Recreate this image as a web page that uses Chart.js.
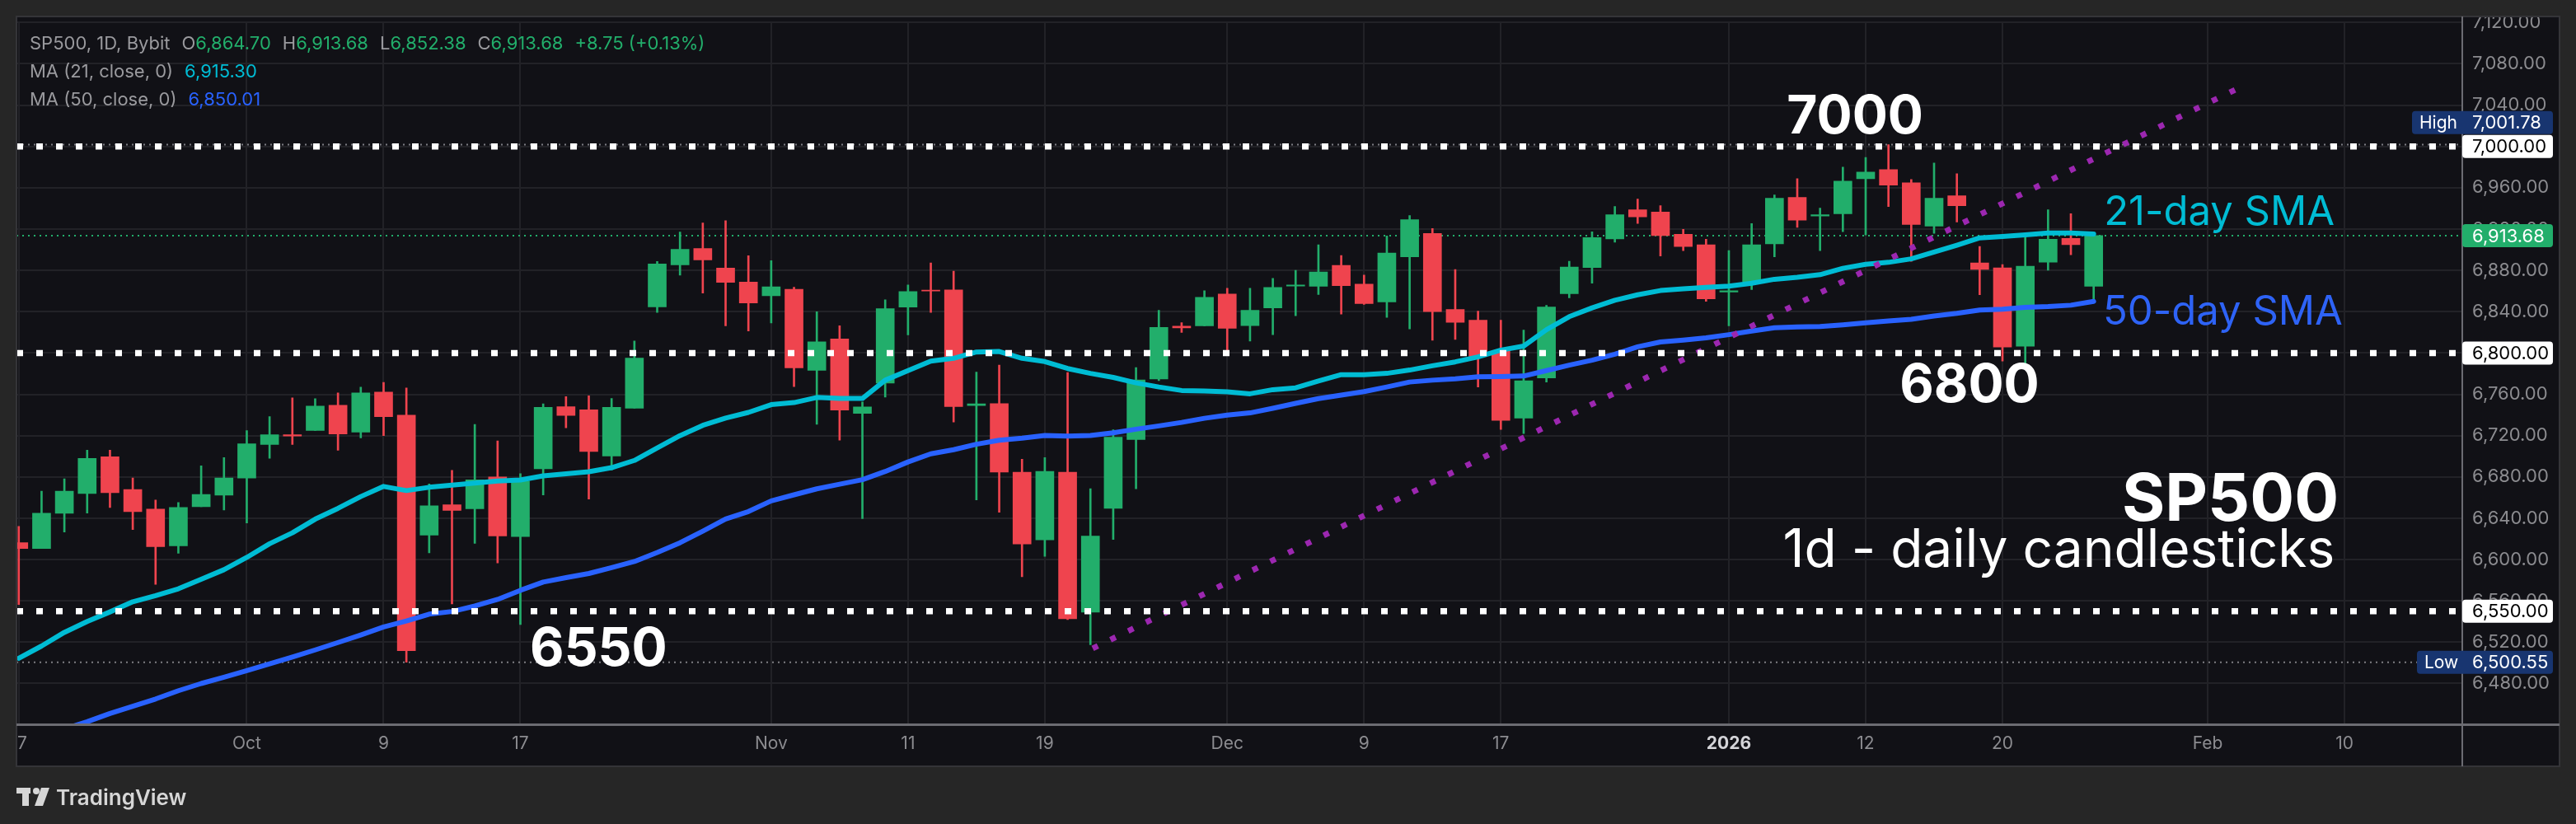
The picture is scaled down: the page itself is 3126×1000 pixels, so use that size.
<!DOCTYPE html>
<html>
<head>
<meta charset="utf-8">
<title>SP500, 1D, Bybit</title>
<script src="https://cdn.jsdelivr.net/npm/chart.js@4.4.1/dist/chart.umd.min.js"></script>
<style>
  html, body { margin: 0; padding: 0; background: #262626; }
  canvas { display: block; }
</style>
</head>
<body>
<canvas id="chart" width="3126" height="1000"></canvas>
<script>
// bar index of each date label on the time axis
const tickIndex = [0, 10, 16, 22, 33, 39, 45, 53, 59, 65, 75, 81, 87, 96, 102];
const tickLabels = ['17', 'Oct', '9', '17', 'Nov', '11', '19', 'Dec', '9', '17', '2026', '12', '20', 'Feb', '10'];
// price axis ticks
const priceTicks = [6480, 6520, 6560, 6600, 6640, 6680, 6720, 6760, 6800, 6840, 6880, 6920, 6960, 7000, 7040, 7080, 7120];

// daily OHLC, Sep 17 2025 -> Jan 26 2026 (one entry per bar)
const opens = [
  6616.4, 6610.8, 6644.9, 6663.9, 6699.5, 6667.9, 6648.8, 6613.2, 6651.2, 6662.3,
  6678.9, 6711.4, 6720.9, 6724.9, 6749.4, 6723.3, 6762.1, 6739.9, 6623.7, 6653.0,
  6649.2, 6680.0, 6622.2, 6687.9, 6748.1, 6745.1, 6700.2, 6746.6, 6844.6, 6885.4,
  6901.2, 6882.2, 6868.7, 6855.5, 6861.6, 6783.3, 6813.6, 6741.5, 6770.8, 6844.5,
  6860.9, 6861.1, 6749.2, 6751.0, 6684.5, 6619.0, 6684.5, 6549.0, 6649.6, 6716.2,
  6774.8, 6826.0, 6826.3, 6857.2, 6826.5, 6843.7, 6864.8, 6864.6, 6884.9, 6866.7,
  6849.5, 6893.1, 6915.8, 6842.1, 6831.8, 6802.5, 6737.0, 6775.8, 6857.4, 6882.8,
  6910.5, 6938.7, 6936.4, 6915.0, 6904.7, 6859.0, 6869.3, 6905.7, 6950.6, 6932.7,
  6934.8, 6968.8, 6977.6, 6964.9, 6922.9, 6952.2, 6887.3, 6882.5, 6806.5, 6888.0,
  6911.0, 6864.70
];
const highs = [
  6632.2, 6666.3, 6678.2, 6705.9, 6705.9, 6678.9, 6657.6, 6655.2, 6690.8, 6698.7,
  6724.9, 6738.4, 6756.6, 6755.8, 6761.3, 6766.9, 6771.6, 6766.1, 6673.2, 6686.4,
  6730.8, 6714.9, 6683.2, 6750.7, 6757.7, 6758.6, 6756.0, 6811.7, 6888.7, 6917.1,
  6925.9, 6928.2, 6894.2, 6889.5, 6863.7, 6839.9, 6826.3, 6752.6, 6851.6, 6865.9,
  6887.3, 6879.3, 6781.6, 6788.3, 6697.2, 6698.7, 6781.1, 6668.6, 6725.7, 6785.9,
  6841.3, 6829.4, 6860.3, 6862.7, 6862.7, 6872.2, 6880.1, 6904.7, 6894.4, 6875.4,
  6913.4, 6933.2, 6920.5, 6880.9, 6840.5, 6831.8, 6822.3, 6846.1, 6888.8, 6917.4,
  6941.9, 6949.0, 6942.7, 6919.7, 6910.2, 6899.1, 6925.3, 6953.0, 6968.8, 6940.3,
  6979.9, 6989.4, 7001.78, 6968.0, 6983.9, 6973.6, 6903.1, 6885.7, 6913.4, 6938.7,
  6934.8, 6913.68
];
const lows = [
  6556.4, 6610.8, 6626.7, 6645.1, 6650.4, 6629.0, 6576.0, 6606.1, 6651.2, 6648.1,
  6635.4, 6698.0, 6711.4, 6724.9, 6705.9, 6717.8, 6720.1, 6500.55, 6606.5, 6557.0,
  6615.7, 6596.7, 6537.1, 6662.5, 6727.5, 6658.6, 6686.7, 6746.6, 6839.3, 6875.3,
  6858.1, 6826.3, 6821.4, 6829.1, 6767.4, 6731.0, 6715.6, 6639.6, 6757.4, 6817.6,
  6839.2, 6733.1, 6657.8, 6645.9, 6583.4, 6603.2, 6541.9, 6517.6, 6619.5, 6668.6,
  6773.2, 6819.9, 6826.3, 6800.1, 6811.5, 6817.8, 6836.0, 6856.6, 6837.6, 6847.1,
  6834.5, 6823.4, 6812.3, 6813.1, 6767.1, 6725.9, 6722.0, 6771.9, 6853.5, 6867.7,
  6907.3, 6925.5, 6893.9, 6899.1, 6850.0, 6826.3, 6861.4, 6893.1, 6921.6, 6899.1,
  6917.4, 6914.2, 6941.9, 6888.8, 6915.8, 6926.9, 6856.4, 6792.2, 6788.3, 6880.1,
  6895.2, 6852.38
];
const closes = [
  6610.8, 6644.9, 6666.3, 6698.0, 6664.7, 6646.5, 6612.4, 6650.4, 6663.1, 6678.9,
  6712.2, 6720.9, 6719.6, 6748.6, 6721.7, 6761.3, 6738.4, 6511.8, 6652.1, 6647.7,
  6677.1, 6622.8, 6675.9, 6747.5, 6739.6, 6704.6, 6747.5, 6795.0, 6886.3, 6900.4,
  6890.1, 6868.4, 6848.4, 6864.0, 6785.6, 6810.9, 6744.7, 6747.9, 6842.9, 6859.5,
  6860.0, 6748.1, 6750.8, 6684.8, 6615.0, 6685.3, 6542.7, 6622.7, 6718.5, 6774.0,
  6824.7, 6824.4, 6854.0, 6823.9, 6841.3, 6863.5, 6865.8, 6878.5, 6865.3, 6847.9,
  6896.8, 6929.2, 6840.0, 6829.7, 6796.7, 6734.7, 6773.2, 6844.5, 6883.3, 6911.8,
  6934.0, 6931.9, 6913.7, 6903.1, 6852.4, 6860.3, 6904.7, 6949.8, 6928.7, 6934.0,
  6966.5, 6975.1, 6962.5, 6924.5, 6949.8, 6942.7, 6880.9, 6805.7, 6884.1, 6910.2,
  6904.93, 6913.68
];

// moving averages as plotted
const ma21 = [
  6504.4, 6516.3, 6529.5, 6540.0, 6549.3, 6559.1, 6565.1, 6571.7, 6581.0, 6590.2,
  6602.1, 6615.3, 6625.9, 6639.1, 6649.6, 6661.0, 6670.8, 6666.8, 6670.0, 6672.0,
  6674.0, 6676.0, 6677.0, 6681.0, 6683.0, 6685.0, 6689.0, 6696.0, 6708.0, 6720.0,
  6730.0, 6737.0, 6742.5, 6750.0, 6752.0, 6757.0, 6756.0, 6756.0, 6773.7, 6783.0,
  6792.2, 6794.9, 6801.0, 6801.5, 6794.9, 6791.7, 6785.0, 6780.3, 6776.4, 6771.1,
  6767.1, 6763.7, 6763.2, 6762.4, 6760.5, 6764.5, 6766.3, 6772.9, 6779.0, 6779.0,
  6780.3, 6783.5, 6787.7, 6791.4, 6796.2, 6802.8, 6806.7, 6822.6, 6835.2, 6843.7,
  6851.1, 6856.4, 6860.5, 6862.2, 6863.5, 6864.8, 6867.5, 6871.4, 6873.3, 6875.9,
  6882.0, 6885.9, 6887.8, 6891.2, 6897.8, 6904.4, 6911.5, 6912.9, 6914.5, 6916.3,
  6916.3, 6915.30
];
const ma50 = [
  6420.0, 6428.0, 6436.0, 6443.0, 6451.0, 6458.0, 6465.0, 6473.0, 6480.0, 6486.0,
  6492.5, 6499.0, 6505.7, 6512.5, 6519.7, 6527.0, 6534.8, 6540.5, 6547.2, 6549.7,
  6555.0, 6561.4, 6570.2, 6578.2, 6582.5, 6586.5, 6592.2, 6598.1, 6606.9, 6616.3,
  6627.5, 6639.2, 6646.5, 6656.8, 6662.7, 6668.5, 6673.0, 6677.4, 6685.3, 6694.5,
  6702.4, 6706.4, 6711.7, 6715.6, 6717.5, 6720.1, 6719.6, 6720.1, 6722.8, 6726.2,
  6729.4, 6732.8, 6736.8, 6739.9, 6742.0, 6746.5, 6751.3, 6755.8, 6759.2, 6762.6,
  6767.1, 6771.9, 6773.7, 6775.0, 6776.9, 6777.2, 6777.7, 6783.0, 6788.3, 6793.0,
  6798.8, 6806.0, 6810.7, 6812.5, 6814.7, 6817.8, 6821.3, 6824.4, 6825.2, 6825.7,
  6827.3, 6829.2, 6831.0, 6832.6, 6835.8, 6838.4, 6841.6, 6842.4, 6844.2, 6845.0,
  6846.3, 6850.01
];

// drawn levels and the rising trend line
const levels = [7000, 6800, 6550];
const levelLabels = ['7000', '6800', '6550'];
const trendIndex = [47.1, 97.4];
const trendValues = [6514, 7057];
const sessionHigh = 7001.78;
const sessionLow = 6500.55;

const X_MIN = -0.1, X_MAX = 107.13;
const UP = '#22ae6b', DOWN = '#ef444e';
const CYAN = '#00bcd4', BLUE = '#2962ff', PURPLE = '#9c27b0';

const fmt = v => v.toLocaleString('en-US', { minimumFractionDigits: 2, maximumFractionDigits: 2 });
const isUp = closes.map((c, i) => c >= opens[i]);
const candleColors = isUp.map(u => u ? UP : DOWN);
const flat = v => [{ x: X_MIN, y: v }, { x: X_MAX, y: v }];
const lastIdx = closes.length - 1;

Chart.defaults.font.family = 'Inter, "Noto Sans", sans-serif';

const datasets = [];
// level lines (on top)
levels.forEach(v => datasets.push({
  type: 'line', data: flat(v), borderColor: '#ffffff', borderWidth: 7.5,
  borderDash: [8, 16], borderCapStyle: 'butt', pointRadius: 0, order: 1
}));
datasets.push({
  type: 'line', data: trendIndex.map((x, i) => ({ x: x, y: trendValues[i] })),
  borderColor: PURPLE, borderWidth: 7, borderDash: [7, 17], borderCapStyle: 'butt',
  pointRadius: 0, order: 2
});
datasets.push({
  type: 'line', data: ma21.map((v, i) => ({ x: i, y: v })), borderColor: CYAN,
  borderWidth: 6, pointRadius: 0, tension: 0, borderJoinStyle: 'round', borderCapStyle: 'round', order: 3
});
datasets.push({
  type: 'line', data: ma50.map((v, i) => ({ x: i, y: v })), borderColor: BLUE,
  borderWidth: 6, pointRadius: 0, tension: 0, borderJoinStyle: 'round', borderCapStyle: 'round', order: 4
});
// candle bodies and wicks as floating bars
datasets.push({
  type: 'bar', data: opens.map((o, i) => ({ x: i, y: [o, closes[i]] })),
  backgroundColor: candleColors, barThickness: 22, grouped: false, order: 5
});
datasets.push({
  type: 'bar', data: lows.map((l, i) => ({ x: i, y: [l, highs[i]] })),
  backgroundColor: candleColors, barThickness: 2, grouped: false, order: 6
});
// thin price lines behind the candles
datasets.push({
  type: 'line', data: flat(closes[lastIdx]), borderColor: UP, borderWidth: 2,
  borderDash: [2, 5], pointRadius: 0, order: 7
});
[sessionHigh, sessionLow].forEach(v => datasets.push({
  type: 'line', data: flat(v), borderColor: '#7d7d82', borderWidth: 2,
  borderDash: [2, 5], pointRadius: 0, order: 8
}));

// text notes anchored at (bar index, price)
const notes = [
  { text: levelLabels[0], x: 77.54, y: 7012.4, font: 'bold 64px Inter', color: '#ffffff', align: 'left' },
  { text: levelLabels[1], x: 82.49, y: 6752.6, font: 'bold 64px Inter', color: '#ffffff', align: 'left' },
  { text: levelLabels[2], x: 22.42, y: 6496.8, font: 'bold 64px Inter', color: '#ffffff', align: 'left' },
  { text: '21-day SMA', x: 91.45, y: 6923.6, font: '49px Inter', color: CYAN, align: 'left' },
  { text: '50-day SMA', x: 91.41, y: 6827.1, font: '49px Inter', color: '#2e63f6', align: 'left' },
  { text: 'SP500', x: 101.75, y: 6637.7, font: 'bold 80px Inter', color: '#ffffff', align: 'right' },
  { text: '1d - daily candlesticks', x: 101.57, y: 6592.6, font: '64px Inter', color: '#ffffff', align: 'right' }
];

function tag(c, x, yc, w, bg, fg, text, font) {
  c.fillStyle = bg;
  c.beginPath();
  c.roundRect(x, yc - 14, w, 28, 4);
  c.fill();
  c.fillStyle = fg;
  c.font = font || '22px Inter';
  c.textAlign = 'left';
  c.textBaseline = 'middle';
  c.fillText(text, 3000, yc + 1);
}

function legendRow(c, x, y, parts) {
  c.font = '22px Inter';
  c.textBaseline = 'alphabetic';
  c.textAlign = 'left';
  parts.forEach(p => {
    c.fillStyle = p[1];
    c.fillText(p[0], x, y);
    x += c.measureText(p[0]).width + (p[2] || 0);
  });
}

const tvDecor = {
  id: 'tvDecor',
  beforeDraw(chart) {
    const c = chart.ctx;
    c.save();
    c.fillStyle = '#262626';
    c.fillRect(0, 0, chart.width, chart.height);
    c.fillStyle = '#111116';
    c.fillRect(20, 20, 3086, 910);
    c.restore();
  },
  afterDatasetsDraw(chart) {
    const c = chart.ctx, xs = chart.scales.x, ys = chart.scales.y;
    c.save();
    c.textBaseline = 'alphabetic';
    notes.forEach(n => {
      c.font = n.font;
      c.fillStyle = n.color;
      c.textAlign = n.align;
      c.fillText(n.text, xs.getPixelForValue(n.x), ys.getPixelForValue(n.y));
    });
    c.restore();
  },
  afterDraw(chart) {
    const c = chart.ctx, ys = chart.scales.y, a = chart.chartArea;
    c.save();
    // outer frame, hides labels that run past the panel
    c.fillStyle = '#262626';
    c.fillRect(0, 0, chart.width, 20);
    c.fillRect(0, 0, 20, chart.height);
    c.fillRect(3106, 0, 20, chart.height);
    c.fillRect(0, 930, chart.width, 70);
    c.strokeStyle = '#343438';
    c.lineWidth = 2;
    c.strokeRect(20, 20, 3086, 910);
    // axis separators
    c.fillStyle = '#6c6c72';
    c.fillRect(a.right, 20, 2, 910);
    c.fillRect(20, a.bottom - 1, 3086, 3);

    // price tags on the axis
    levels.forEach(v => tag(c, a.right + 1, ys.getPixelForValue(v), 110, '#ffffff', '#000000', fmt(v)));
    tag(c, a.right + 1, ys.getPixelForValue(closes[lastIdx]), 110, UP, '#ffffff', fmt(closes[lastIdx]));
    const hy = ys.getPixelForValue(levels[0]) - 29;
    tag(c, 2927, hy, 171, '#183570', '#ffffff', fmt(sessionHigh));
    const ly = ys.getPixelForValue(sessionLow);
    tag(c, 2933, ly, 165, '#183570', '#ffffff', fmt(sessionLow));
    c.font = '21px Inter';
    c.fillText('High', 2936, hy + 1);
    c.fillText('Low', 2942, ly + 1);

    // legend
    const chg = closes[lastIdx] - closes[lastIdx - 1];
    const pct = chg / closes[lastIdx - 1] * 100;
    const g = '#9a9a9e';
    legendRow(c, 36, 60, [
      ['SP500, 1D, Bybit', g, 14],
      ['O', g], [fmt(opens[lastIdx]), UP, 14],
      ['H', g], [fmt(highs[lastIdx]), UP, 14],
      ['L', g], [fmt(lows[lastIdx]), UP, 14],
      ['C', g], [fmt(closes[lastIdx]), UP, 14],
      ['+' + chg.toFixed(2) + ' (+' + pct.toFixed(2) + '%)', UP]
    ]);
    legendRow(c, 36, 94, [['MA (21, close, 0)', g, 14], [fmt(ma21[lastIdx]), CYAN]]);
    legendRow(c, 36, 128, [['MA (50, close, 0)', g, 14], [fmt(ma50[lastIdx]), BLUE]]);

    // TradingView mark
    c.fillStyle = '#d6d6d6';
    c.fillRect(20, 956, 17, 7);
    c.fillRect(27, 956, 8, 22);
    c.beginPath();
    c.arc(44, 960, 4, 0, Math.PI * 2);
    c.fill();
    c.beginPath();
    c.moveTo(50, 956); c.lineTo(60, 956); c.lineTo(52, 978); c.lineTo(42, 978);
    c.closePath();
    c.fill();
    c.font = '600 26px Inter';
    c.textBaseline = 'alphabetic';
    c.fillText('TradingView', 68, 977);
    c.restore();
  }
};

new Chart(document.getElementById('chart'), {
  type: 'bar',
  data: { datasets: datasets },
  options: {
    responsive: false,
    devicePixelRatio: 1,
    animation: false,
    events: [],
    layout: { padding: { left: 20, top: 20, right: 20, bottom: 70 } },
    plugins: { legend: { display: false }, tooltip: { enabled: false } },
    scales: {
      x: {
        type: 'linear',
        min: X_MIN,
        max: X_MAX,
        offset: false,
        grid: { color: '#222227', lineWidth: 2, offset: false, drawTicks: false },
        border: { display: false },
        afterBuildTicks: s => { s.ticks = tickIndex.map(v => ({ value: v })); },
        afterFit: s => { s.height = 51; },
        ticks: {
          autoSkip: false,
          maxRotation: 0,
          padding: 11,
          color: ctx => ctx.tick && ctx.tick.value === 75 ? '#d4d4d8' : '#8c8c90',
          font: ctx => ctx.tick && ctx.tick.value === 75 ? { size: 21, weight: 'bold' } : { size: 21 },
          callback: (v, i) => tickLabels[i]
        }
      },
      y: {
        type: 'linear',
        position: 'right',
        min: 6440.5,
        max: 7120.9,
        grid: { color: '#222227', lineWidth: 2, drawTicks: false },
        border: { display: false },
        afterBuildTicks: s => { s.ticks = priceTicks.map(v => ({ value: v })); },
        afterFit: s => { s.width = 119; },
        ticks: {
          autoSkip: false,
          padding: 13,
          color: '#8c8c90',
          font: { size: 22 },
          callback: v => fmt(v)
        }
      }
    }
  },
  plugins: [tvDecor]
});
</script>
</body>
</html>
